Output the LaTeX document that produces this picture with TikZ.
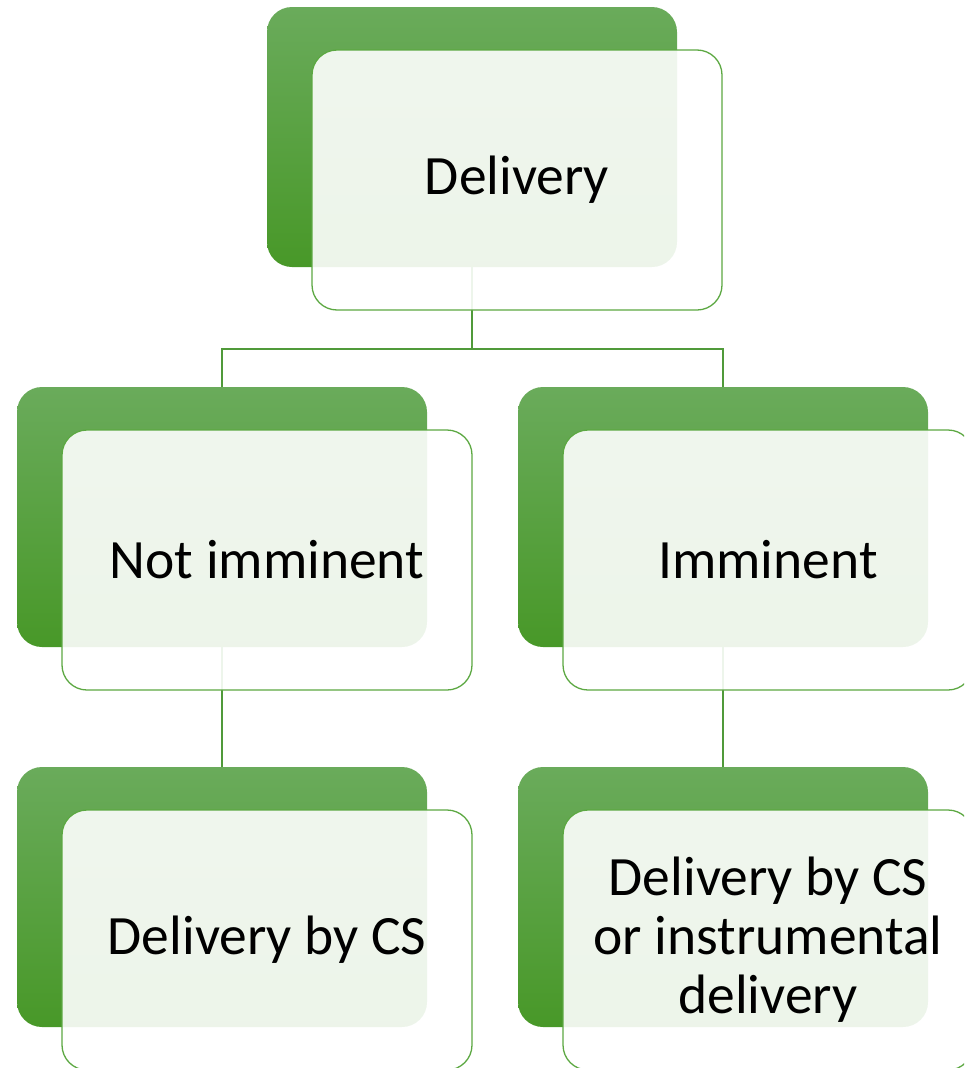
\documentclass[tikz,border=0pt]{standalone}
\usepackage{fontspec}
\setmainfont{Carlito}
\usetikzlibrary{calc}
\definecolor{gtop}{RGB}{106,171,91}
\definecolor{gmid}{RGB}{94,165,73}
\definecolor{gbot}{RGB}{72,152,40}
\definecolor{gedge}{RGB}{92,168,66}
\definecolor{gline}{RGB}{80,154,58}
\tikzset{
  backbox/.style={rounded corners=25pt, minimum width=410pt, minimum height=260pt,
    inner sep=0pt, top color=gtop, middle color=gmid, bottom color=gbot, draw=none},
  frontbox/.style={rounded corners=25pt, minimum width=410pt, minimum height=260pt,
    inner sep=0pt, draw=gedge, line width=1.3pt, fill=white, fill opacity=0.9,
    text opacity=1, align=center, font=\fontsize{55.5}{59}\selectfont},
  link/.style={draw=gline, line width=1.5pt}
}
\begin{document}
\begin{tikzpicture}[x=1pt,y=-1pt]
\useasboundingbox (0,0) rectangle (964,1068);
\clip (0,0) rectangle (964,1068);
% back panels
\node[backbox] (topb) at (472,137) {};
\node[backbox] (lb) at (222,517) {};
\node[backbox] (rb) at (723,517) {};
\node[backbox] (lbb) at (222,897) {};
\node[backbox] (rbb) at (723,897) {};
% connectors
\coordinate (j1) at (472,349);
\draw[link] (topb.south) -- (j1) -| (lb.north);
\draw[link] (j1) -| (rb.north);
\draw[link] (lb.south) -- (lbb.north);
\draw[link] (rb.south) -- (rbb.north);
% front panels with labels
\node[frontbox] (topf) at (517,180) {Delivery};
\node[frontbox] (lf) at (267,560) {Not imminent};
\node[frontbox] (rf) at (768,560) {Imminent};
\node[frontbox] (lbf) at (267,940) {Delivery by CS};
\node[frontbox] (rbf) at (768,940) {Delivery by CS\\or instrumental\\delivery};
\end{tikzpicture}
\end{document}
